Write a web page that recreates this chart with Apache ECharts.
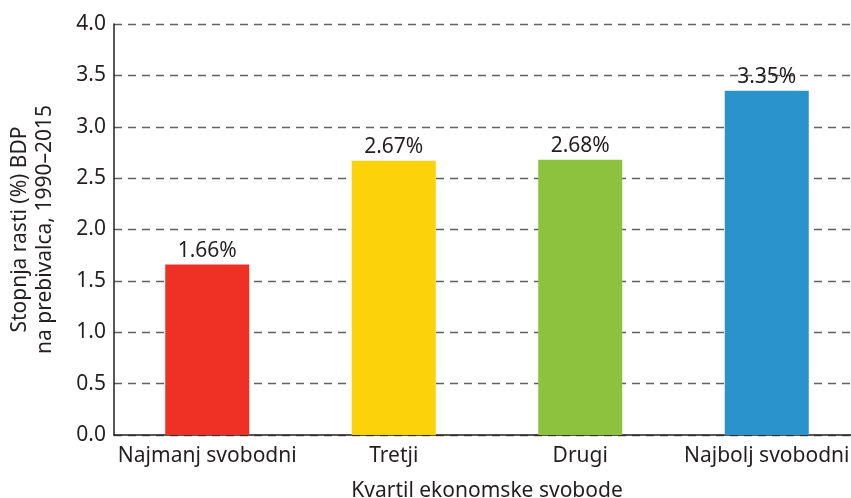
<!DOCTYPE html>
<html>
<head>
<meta charset="utf-8">
<script src="https://cdn.jsdelivr.net/npm/echarts@6/dist/echarts.min.js"></script>
<style>
  html, body { margin: 0; padding: 0; background: #fff; }
  #main { width: 851px; height: 498px; }
</style>
</head>
<body>
<div id="main"></div>
<script>
var categories = ['Najmanj svobodni', 'Tretji', 'Drugi', 'Najbolj svobodni'];
var values = [1.66, 2.67, 2.68, 3.35];
var barColors = ['#EE3124', '#FCD20A', '#8DC23F', '#2A93CB'];

var font = 'Noto Sans';
var fs = 21;
var chart = echarts.init(document.getElementById('main'));

chart.setOption({
  animation: false,
  grid: { left: 114, top: 24, width: 746, height: 411, containLabel: false, outerBoundsMode: 'none' },
  xAxis: {
    type: 'category',
    data: categories,
    name: 'Kvartil ekonomske svobode',
    nameLocation: 'middle',
    nameGap: 46,
    nameTextStyle: { fontFamily: font, fontSize: fs, color: '#231f20' },
    axisLine: { lineStyle: { color: '#231f20', width: 1.5 } },
    axisTick: { show: false },
    axisLabel: { interval: 0, fontFamily: font, fontSize: fs, color: '#231f20', margin: 11 }
  },
  yAxis: {
    type: 'value',
    min: 0,
    max: 4,
    interval: 0.5,
    name: 'Stopnja rasti (%) BDP\nna prebivalca, 1990–2015',
    nameLocation: 'middle',
    nameGap: 56,
    nameTextStyle: { fontFamily: font, fontSize: fs, color: '#231f20', lineHeight: 25 },
    axisLine: { show: true, lineStyle: { color: '#231f20', width: 1.5 } },
    axisTick: { show: false },
    axisLabel: {
      fontFamily: font, fontSize: fs, color: '#231f20', margin: 8,
      formatter: function (v) { return v.toFixed(1); }
    },
    splitLine: { lineStyle: { color: '#5f6062', type: [8, 6], width: 1.3 } }
  },
  series: [{
    type: 'bar',
    barWidth: 84,
    data: values.map(function (v, i) {
      return { value: v, itemStyle: { color: barColors[i] } };
    }),
    label: {
      show: true,
      position: 'top',
      distance: 3,
      fontFamily: font,
      fontSize: fs,
      color: '#231f20',
      formatter: function (p) { return p.value.toFixed(2) + '%'; }
    }
  }]
});
</script>
</body>
</html>
